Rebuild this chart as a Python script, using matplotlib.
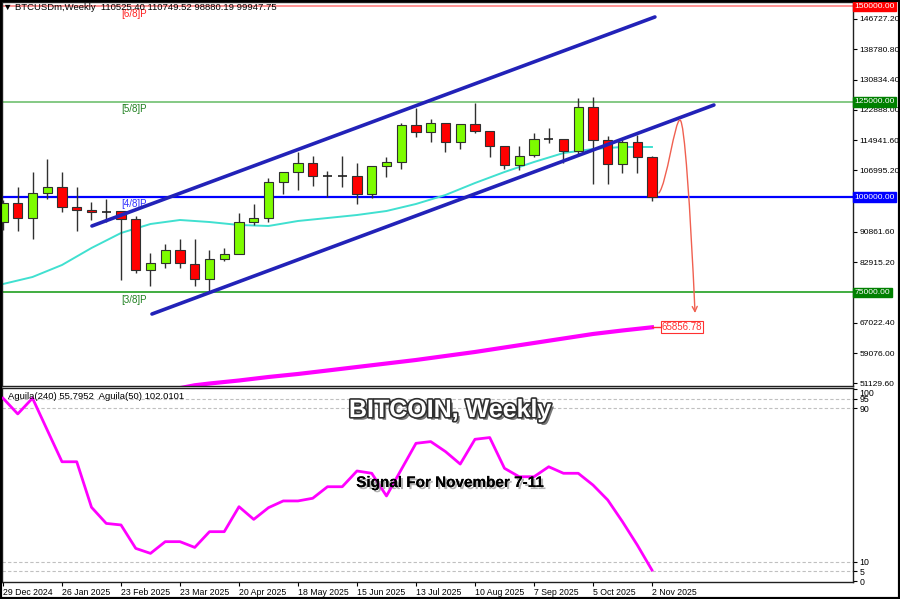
import matplotlib
matplotlib.use("Agg")
import matplotlib.pyplot as plt
import matplotlib.patheffects as pe
from matplotlib.patches import FancyArrowPatch, Rectangle
from matplotlib.path import Path

plt.rcParams['font.family'] = ['Liberation Sans', 'DejaVu Sans']

# weekly candles, week 0 = 29 Dec 2024
opens = [93470, 98460, 94520, 101080, 102650, 97410, 96620, 96100, 96360, 94260,
         80880, 82720, 86130, 82460, 78490, 83770, 85080, 93470, 94520, 103970,
         106590, 108950, 105540, 105600, 105540, 100820, 108160, 109210, 118920, 117080,
         119440, 114460, 119180, 117340, 113410, 108430, 111050, 115245, 115245, 112100,
         123640, 114980, 108690, 114460, 110525.40]
highs = [99250, 102650, 106590, 110000, 106590, 102650, 98720, 99510, 96360, 95000,
         85340, 87700, 89020, 89020, 86130, 86660, 95840, 98200, 105020, 106590,
         111840, 110790, 106850, 110790, 108950, 108160, 110520, 119440, 123380, 120490,
         119440, 119180, 124690, 117340, 113410, 113410, 116820, 118130, 115245, 126000,
         126260, 116030, 115510, 116300, 110749.52]
lows = [91380, 91110, 89020, 99510, 96100, 91110, 94000, 93470, 78260, 80100,
        76690, 81410, 81410, 76690, 74850, 83250, 85080, 92690, 93470, 100820,
        101870, 102920, 100030, 102650, 98200, 99770, 105280, 107380, 115770, 114460,
        111840, 112620, 116820, 110520, 107380, 107110, 110520, 114200, 108950, 111310,
        103440, 103440, 106330, 106330, 98880.19]
closes = [98460, 94520, 101080, 102650, 97410, 96620, 96100, 96150, 94260, 80880,
          82720, 86130, 82720, 78490, 83770, 85080, 93470, 94520, 103970, 106590,
          108950, 105540, 105600, 105540, 100820, 108160, 109210, 118920, 117080, 119440,
          114460, 119180, 117340, 113410, 108430, 110790, 115245, 115300, 112100, 123640,
          114980, 108690, 114460, 110525, 99947.75]

# moving averages (even weeks)
ma_weeks = [0, 2, 4, 6, 8, 10, 12, 14, 16, 18, 20, 22, 24, 26, 28, 30, 32, 34, 36, 38, 40, 42, 44]
ma_cyan = [77210, 79050, 82200, 86660, 90590, 92950, 94000, 93470, 92690, 92430, 93740, 94520,
           95310, 96360, 98200, 100560, 103700, 106590, 109210, 111570, 112620, 113150, 113150]
ma_long_weeks = [12, 13, 14, 16, 18, 20, 22, 24, 26, 28, 30, 32, 34, 36, 38, 40, 42, 44]
ma_long = [49900, 50650, 51110, 51900, 52820, 53610, 54520, 55440, 56360, 57280, 58330,
           59380, 60560, 61740, 62920, 64100, 65020, 65856.78]

# oscillator in the lower pane
osc = [95.2, 87.0, 95.2, 78.6, 62.1, 62.1, 38.4, 30.0, 29.2, 17.0,
       14.4, 20.5, 20.5, 17.5, 25.7, 25.7, 38.7, 32.1, 38.2, 41.7,
       41.7, 43.1, 49.1, 49.1, 57.3, 56.1, 44.3, 58.0, 71.7, 72.6,
       67.4, 60.9, 73.8, 74.7, 58.7, 54.3, 54.3, 59.5, 56.1, 56.1,
       50.0, 42.2, 30.9, 18.8, 5.7]

# channel lines (week, price)
chan_up_x = [6.03, 44.2]
chan_up_p = [92430, 147250]
chan_lo_x = [10.1, 48.2]
chan_lo_p = [69340, 124160]

# murrey levels
levels = [150000, 125000, 100000, 75000]
level_names = ["[6/8]P", "[5/8]P", "[4/8]P", "[3/8]P"]
level_line_colors = ['#ff8080', '#70c070', '#0000ff', '#20a020']
level_text_colors = ['#ff2020', '#208020', '#3030ff', '#208020']
level_box_colors = ['#ff0000', '#008000', '#0000ff', '#008000']

# forecast path (week, price)
fc_x = [44.47, 45.0, 45.55, 45.9, 46.2, 46.6, 46.92]
fc_p = [101080, 103500, 120300, 120230, 120230, 97000, 69600]

price_ticks = [146727.20, 138780.80, 130834.40, 122888.00, 114941.60, 106995.20,
               90861.60, 82915.20, 67022.40, 59076.00, 51129.60]
osc_ticks = [100, 95, 90, 10, 5, 0]
osc_levels = [95, 90, 10, 5]
date_ticks = [0, 4, 8, 12, 16, 20, 24, 28, 32, 36, 40, 44]
date_labels = ["29 Dec 2024", "26 Jan 2025", "23 Feb 2025", "23 Mar 2025", "20 Apr 2025",
               "18 May 2025", "15 Jun 2025", "13 Jul 2025", "10 Aug 2025", "7 Sep 2025",
               "5 Oct 2025", "2 Nov 2025"]

fig = plt.figure(figsize=(9, 5.99), dpi=100)
ax = fig.add_axes([2 / 900, 1 - 386 / 599, 851 / 900, 384 / 599])
ax2 = fig.add_axes([2 / 900, 1 - 582 / 599, 851 / 900, 194 / 599])

xlim = (-0.068, 57.63)
ax.set_xlim(*xlim)
ax.set_ylim(50457, 151180)
ax2.set_xlim(*xlim)
ax2.set_ylim(-0.5, 100.5)

# candles
weeks = list(range(len(opens)))
for i in weeks:
    o, h, l, c = opens[i], highs[i], lows[i], closes[i]
    ax.vlines(i, l, h, color='#303030', lw=1, zorder=3)
    col = '#7dfc00' if c >= o else '#ff0000'
    lo, hi = min(o, c), max(o, c)
    if hi - lo < 300:
        ax.hlines(o, i - 0.32, i + 0.32, color='#202020', lw=1.2, zorder=4)
    else:
        ax.bar(i, hi - lo, bottom=lo, width=0.62, color=col, edgecolor='#303030',
               lw=0.8, zorder=4)

ax.plot(ma_weeks, ma_cyan, color='#40e0d0', lw=1.4, zorder=2)
ax.plot(ma_long_weeks, ma_long, color='#ff00ff', lw=3, zorder=2)

for lv, nm, lc, tc, bc in zip(levels, level_names, level_line_colors, level_text_colors, level_box_colors):
    ax.axhline(lv, color=lc, lw=1.6 if lv == 100000 else 1.2, zorder=1)
    ax.annotate(nm, (8.0, lv), xytext=(0, -1.5), textcoords='offset points',
                va='top', ha='left', fontsize=7, color=tc, zorder=5)
    ax.annotate("%.2f" % lv, (1.002, lv), xycoords=('axes fraction', 'data'),
                va='center', ha='left', fontsize=6.1, color='white', zorder=10,
                annotation_clip=False,
                bbox=dict(boxstyle='square,pad=0.15', fc=bc, ec=bc))

ax.plot(chan_up_x, chan_up_p, color='#2222b8', lw=2.6, zorder=5, solid_capstyle='round')
ax.plot(chan_lo_x, chan_lo_p, color='#2222b8', lw=2.6, zorder=5, solid_capstyle='round')

codes = [Path.MOVETO, Path.CURVE4, Path.CURVE4, Path.CURVE4, Path.CURVE4, Path.CURVE4, Path.CURVE4]
arrow = FancyArrowPatch(path=Path(list(zip(fc_x, fc_p)), codes), arrowstyle='->',
                        mutation_scale=9, color='#f06050', lw=1, zorder=6)
ax.add_patch(arrow)

# last value label of long MA
ax.plot([ma_long_weeks[-1], ma_long_weeks[-1] + 0.6], [ma_long[-1], ma_long[-1]], color='#ff3030', lw=1, zorder=5)
ax.annotate("%.2f" % ma_long[-1], (ma_long_weeks[-1] + 0.65, ma_long[-1]), va='center', ha='left',
            fontsize=7, color='#ff3030', zorder=6,
            bbox=dict(boxstyle='square,pad=0.1', fc='white', ec='#ff3030', lw=0.8))

ax.set_xticks([])
ax.yaxis.tick_right()
ax.set_yticks(price_ticks)
ax.set_yticklabels(["%.2f" % t for t in price_ticks])
ax.tick_params(axis='y', direction='out', length=3, width=0.8, pad=1.5, labelsize=6.1, colors='black')

# lower pane
for lv in osc_levels:
    ax2.axhline(lv, color='#c0c0c0', lw=0.8, ls=(0, (3, 2)), zorder=1)
ax2.plot(weeks, osc, color='#ff00ff', lw=2, zorder=3)
ax2.yaxis.tick_right()
ax2.set_yticks(osc_ticks)
ax2.set_yticklabels([str(t) for t in osc_ticks])
ax2.tick_params(axis='y', direction='out', length=3, width=0.8, pad=1.5, labelsize=6.3)
for lab in ax2.get_yticklabels():
    if lab.get_text() == "100":
        lab.set_va('top')
ax2.set_xticks(date_ticks)
ax2.set_xticklabels(date_labels, ha='left')
ax2.tick_params(axis='x', direction='out', length=3, width=0.8, pad=1.5, labelsize=6.3)

for a in (ax, ax2):
    for s in a.spines.values():
        s.set_linewidth(1.0)
        s.set_color('#202020')

ax2.text(0.007, 0.955, "Aguila(240) 55.7952  Aguila(50) 102.0101", transform=ax2.transAxes,
         fontsize=6.8, va='center', ha='left', color='black')

fig.text(3 / 900, 1 - 7 / 599, "\u25bc BTCUSDm,Weekly  110525.40 110749.52 98880.19 99947.75",
         fontsize=6.8, va='center', ha='left', color='black')

fig.text(450 / 900, 1 - 410 / 599, "BITCOIN, Weekly", fontsize=18, fontweight='bold',
         color='white', ha='center', va='center',
         path_effects=[pe.withSimplePatchShadow(offset=(2, -2), shadow_rgbFace='#404040', alpha=0.7),
                       pe.withStroke(linewidth=2.4, foreground='#303030')])
fig.text(450 / 900, 1 - 483 / 599, "Signal For November 7-11", fontsize=11, fontweight='bold',
         color='black', ha='center', va='center',
         path_effects=[pe.withSimplePatchShadow(offset=(1.5, -1.5), shadow_rgbFace='#808080', alpha=0.6),
                       pe.Normal()])

fig.patches.append(Rectangle((0, 0), 1, 1, transform=fig.transFigure, fill=False,
                             lw=3, edgecolor='black', zorder=20))

fig.savefig("out.png", dpi=100)
